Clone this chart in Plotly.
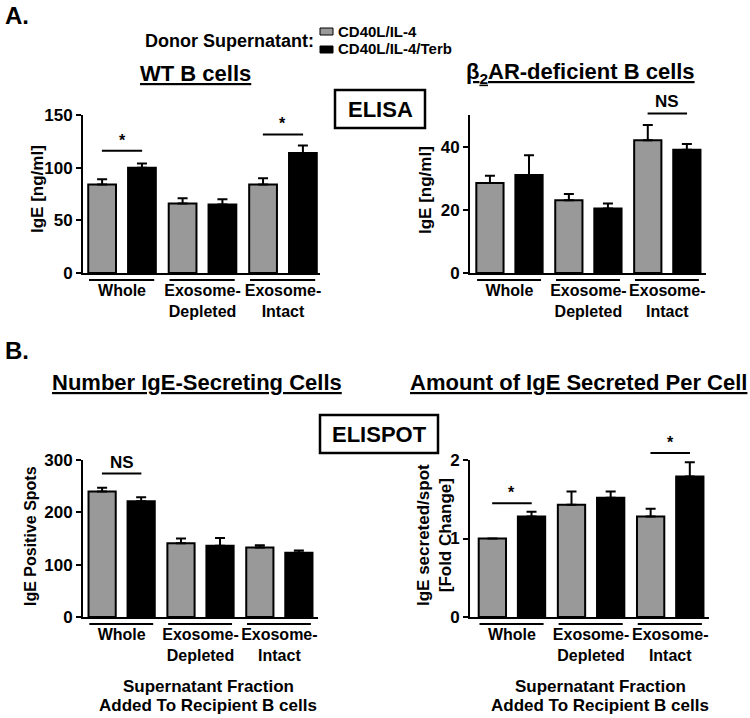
import plotly.graph_objects as go

# ---------------- data ----------------
categories = ["Whole", "Exosome-<br>Depleted", "Exosome-<br>Intact"]
series_names = ["CD40L/IL-4", "CD40L/IL-4/Terb"]

wt_ctrl = [84, 66, 84]
wt_ctrl_err = [5, 5, 6]
wt_terb = [100, 65, 114]
wt_terb_err = [4, 5, 7]

b2ar_ctrl = [28.5, 23, 42]
b2ar_ctrl_err = [2.3, 2.0, 4.8]
b2ar_terb = [31, 20.4, 39]
b2ar_terb_err = [6.3, 1.6, 1.8]

spots_ctrl = [240, 141, 133]
spots_ctrl_err = [7, 9, 4]
spots_terb = [221, 136, 123]
spots_terb_err = [8, 15, 4]

fold_ctrl = [1.0, 1.43, 1.28]
fold_ctrl_err = [0, 0.17, 0.10]
fold_terb = [1.28, 1.52, 1.79]
fold_terb_err = [0.06, 0.08, 0.18]

wt_ticks = [0, 50, 100, 150]
b2ar_ticks = [0, 20, 40]
spots_ticks = [0, 100, 200, 300]
fold_ticks = [0, 1, 2]

# significance marks: (category index, height in data units, label)
wt_sig = [(0, 116, "*"), (2, 131.5, "*")]
b2ar_sig = [(2, 50.5, "NS")]
spots_sig = [(0, 274, "NS")]
fold_sig = [(0, 1.45, "*"), (2, 2.09, "*")]

# ---------------- style ----------------
W, H = 750, 718
GRAY = "#999999"
BLACK = "#000000"
FONT = "Liberation Sans, Arial, sans-serif"


def px(x):
    return x / W


def py(y):
    return 1 - y / H


panels = [
    dict(ctrl=wt_ctrl, ctrl_err=wt_ctrl_err, terb=wt_terb, terb_err=wt_terb_err,
         ticks=wt_ticks, ymax=150, sig=wt_sig,
         xdom=(83, 320), ydom=(115, 273), xr=(-0.485, 2.46)),
    dict(ctrl=b2ar_ctrl, ctrl_err=b2ar_ctrl_err, terb=b2ar_terb, terb_err=b2ar_terb_err,
         ticks=b2ar_ticks, ymax=50, sig=b2ar_sig,
         xdom=(470, 706), ydom=(115, 273), xr=(-0.5, 2.49)),
    dict(ctrl=spots_ctrl, ctrl_err=spots_ctrl_err, terb=spots_terb, terb_err=spots_terb_err,
         ticks=spots_ticks, ymax=300, sig=spots_sig,
         xdom=(83, 318), ydom=(460, 617), xr=(-0.49, 2.49)),
    dict(ctrl=fold_ctrl, ctrl_err=fold_ctrl_err, terb=fold_terb, terb_err=fold_terb_err,
         ticks=fold_ticks, ymax=2, sig=fold_sig,
         xdom=(470, 709), ydom=(460, 617), xr=(-0.53, 2.49)),
]

BAR_W = 0.345
fig = go.Figure()
layout = dict(
    width=W, height=H, margin=dict(l=0, r=0, t=0, b=0, pad=0, autoexpand=False),
    paper_bgcolor="white", plot_bgcolor="white", showlegend=False,
    font=dict(family=FONT, color="black"), barmode="group", template="none",
)
shapes = []
annotations = []

for k, p in enumerate(panels):
    s = "" if k == 0 else str(k + 1)
    xa, ya = "x" + s, "y" + s
    for vals, errs, color, off, name in [
        (p["ctrl"], p["ctrl_err"], GRAY, -0.42, series_names[0]),
        (p["terb"], p["terb_err"], BLACK, 0.075, series_names[1]),
    ]:
        fig.add_trace(go.Bar(
            x=categories, y=vals, name=name, width=[BAR_W] * len(vals), offset=off,
            marker=dict(color=color, line=dict(color="black", width=2)),
            error_y=dict(type="data", array=errs, arrayminus=[0] * len(errs), symmetric=False,
                         color="black", thickness=2, width=5),
            xaxis=xa, yaxis=ya, showlegend=False, hoverinfo="x+y",
        ))
    layout["xaxis" + s] = dict(
        domain=[px(p["xdom"][0]), px(p["xdom"][1])], anchor=ya, type="category",
        range=list(p["xr"]), showline=True, linecolor="black", linewidth=2,
        ticks="outside", ticklen=2, tickcolor="rgba(0,0,0,0)", automargin=False,
        tickfont=dict(size=16, family=FONT, color="black", weight="bold"),
        showgrid=False, zeroline=False, fixedrange=True,
    )
    layout["yaxis" + s] = dict(
        domain=[py(p["ydom"][1]), py(p["ydom"][0])], anchor=xa, range=[0, p["ymax"]],
        tickvals=p["ticks"], showline=True, linecolor="black", linewidth=2,
        ticks="outside", ticklen=5, tickwidth=2, tickcolor="black", automargin=False,
        tickfont=dict(size=17, family=FONT, color="black", weight="bold"),
        showgrid=False, zeroline=False, fixedrange=True,
    )
    # group underlines
    for i in range(len(categories)):
        shapes.append(dict(type="line", xref=xa, yref=ya + " domain",
                           x0=i - 0.41, x1=i + 0.40, y0=-0.045, y1=-0.045,
                           line=dict(color="black", width=2)))
    # significance lines + labels
    for (i, h, lab) in p["sig"]:
        yd = h / p["ymax"]
        shapes.append(dict(type="line", xref=xa, yref=ya + " domain",
                           x0=i - 0.25, x1=i + 0.25, y0=yd, y1=yd,
                           line=dict(color="black", width=2)))
        annotations.append(dict(text=lab, xref=xa, yref=ya + " domain", x=i, y=yd,
                                xanchor="center", yanchor="bottom", showarrow=False,
                                font=dict(size=17 if lab == "NS" else 16, weight="bold")))


# ---------------- text / decorations ----------------
def ann(text, x, y, size, xanchor="center", yanchor="middle", angle=0):
    annotations.append(dict(text=text, xref="paper", yref="paper", x=px(x), y=py(y),
                            xanchor=xanchor, yanchor=yanchor, showarrow=False, textangle=angle,
                            font=dict(size=size, weight="bold", family=FONT, color="black")))


ann("A.", 3, 15, 24, xanchor="left")
ann("B.", 3, 350, 24, xanchor="left")
ann("Donor Supernatant:", 316, 41, 18, xanchor="right")
ann(series_names[0], 336, 32, 15, xanchor="left")
ann(series_names[1], 336, 49, 15, xanchor="left")
shapes.append(dict(type="rect", xref="paper", yref="paper", x0=px(320), x1=px(333), y0=py(28), y1=py(35),
                   fillcolor=GRAY, line=dict(color="black", width=1)))
shapes.append(dict(type="rect", xref="paper", yref="paper", x0=px(320), x1=px(333), y0=py(46), y1=py(53),
                   fillcolor=BLACK, line=dict(color="black", width=1)))

ann("<u>WT B cells</u>", 196, 73, 22)
ann("<u>β<sub>2</sub>AR-deficient B cells</u>", 580, 73, 22)
ann("<u>Number IgE-Secreting Cells</u>", 197, 382, 22)
ann("<u>Amount of IgE Secreted Per Cell</u>", 578, 382, 22)

ann("ELISA", 380, 109, 22)
shapes.append(dict(type="rect", xref="paper", yref="paper", x0=px(335), x1=px(425), y0=py(90), y1=py(128),
                   line=dict(color="black", width=2.5), fillcolor="rgba(0,0,0,0)"))
ann("ELISPOT", 379, 434, 22)
shapes.append(dict(type="rect", xref="paper", yref="paper", x0=px(320), x1=px(438), y0=py(415), y1=py(453),
                   line=dict(color="black", width=2.5), fillcolor="rgba(0,0,0,0)"))

ann("IgE [ng/ml]", 37, 189, 17, angle=-90)
ann("IgE [ng/ml]", 425, 190, 17, angle=-90)
ann("IgE Positive Spots", 30, 536, 16, angle=-90)
ann("IgE secreted/spot<br>[Fold Change]", 434, 535, 17, angle=-90)

for cx in (208, 600):
    ann("Supernatant Fraction", cx, 686, 17)
    ann("Added To Recipient B cells", cx, 705, 17)

layout["shapes"] = shapes
layout["annotations"] = annotations
fig.update_layout(**layout)

fig.write_html(
    "out.html",
    config={"displayModeBar": False},
    post_script="document.body.style.margin='0';document.body.style.overflow='hidden';"
                "document.documentElement.style.overflow='hidden';",
)
